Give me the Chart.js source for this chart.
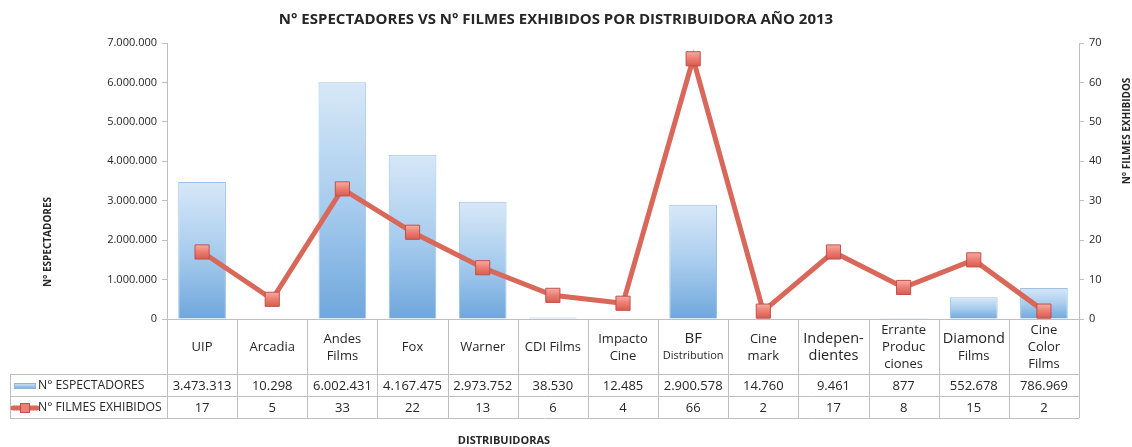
<!DOCTYPE html>
<html>
<head>
<meta charset="utf-8">
<script src="https://cdn.jsdelivr.net/npm/chart.js@4.4.1/dist/chart.umd.min.js"></script>
<style>
  html, body { margin: 0; padding: 0; background: #fff; }
  #wrap { width: 1132px; height: 447px; }
</style>
</head>
<body>
<div id="wrap"><canvas id="distChart" width="1132" height="447"></canvas></div>
<script>
// ================= DATA =================
const categories = [
  ["UIP"], ["Arcadia"], ["Andes", "Films"], ["Fox"], ["Warner"], ["CDI Films"],
  ["Impacto", "Cine"], ["BF", "Distribution"], ["Cine", "mark"], ["Indepen-", "dientes"],
  ["Errante", "Produc", "ciones"], ["Diamond", "Films"], ["Cine", "Color", "Films"]
];
const espectadores = [3473313, 10298, 6002431, 4167475, 2973752, 38530, 12485, 2900578, 14760, 9461, 877, 552678, 786969];
const filmes = [17, 5, 33, 22, 13, 6, 4, 66, 2, 17, 8, 15, 2];
const seriesNames = ["N° ESPECTADORES", "N° FILMES EXHIBIDOS"];
const chartTitle = "N° ESPECTADORES VS N° FILMES EXHIBIDOS POR DISTRIBUIDORA AÑO 2013";
const xTitle = "DISTRIBUIDORAS";

// ================= STYLE =================
const FONT = "'Open Sans', 'Noto Sans', sans-serif";
const TXT = "#262626";
const GRID = "#bfbfbf";
const LINE_RED = "#d9675a";
// bigger / smaller lines in category header (like the original sheet)
const lineSizes = { "BF": 15, "Distribution": 11, "Indepen-": 14.5, "dientes": 14.5, "Diamond": 14.5 };

function fmt(v) {
  return String(Math.round(v)).replace(/\B(?=(\d{3})+(?!\d))/g, ".");
}

function barGradient(ctx) {
  const chart = ctx.chart;
  if (!chart.chartArea || ctx.type !== "data") return "#a9cbeb";
  const y = chart.scales.y;
  const top = y.getPixelForValue(ctx.raw);
  const base = y.getPixelForValue(0);
  const g = chart.ctx.createLinearGradient(0, top, 0, Math.max(base, top + 1));
  g.addColorStop(0, "#d7e8f7");
  g.addColorStop(0.5, "#a9cdee");
  g.addColorStop(1, "#6fa7dc");
  return g;
}

function pointGradient(ctx) {
  const chart = ctx.chart;
  if (!chart.chartArea || ctx.type !== "data") return "#ec8076";
  const y = chart.scales.y1.getPixelForValue(ctx.raw);
  const g = chart.ctx.createLinearGradient(0, y - 8, 0, y + 8);
  g.addColorStop(0, "#f7b3ab");
  g.addColorStop(0.45, "#ee8175");
  g.addColorStop(1, "#d6574a");
  return g;
}

// ================= TABLE + TITLES PLUGIN =================
const tablePlugin = {
  id: "dataTable",
  afterDraw(chart) {
    const c = chart.ctx;
    const x = chart.scales.x;
    const area = chart.chartArea;
    const n = categories.length;
    const colW = (area.right - area.left) / n;
    const tableLeft = 10;
    const headBottom = 374;
    const row1Bottom = 396;
    const row2Bottom = 418;

    c.save();
    // grid of the table
    c.strokeStyle = GRID;
    c.lineWidth = 1;
    c.beginPath();
    for (let i = 0; i <= n; i++) {
      const px = Math.round(area.left + i * colW) + 0.5;
      c.moveTo(px, area.bottom);
      c.lineTo(px, row2Bottom);
    }
    [headBottom, row1Bottom, row2Bottom].forEach(yy => {
      c.moveTo(tableLeft, yy + 0.5);
      c.lineTo(area.right, yy + 0.5);
    });
    c.moveTo(tableLeft + 0.5, headBottom);
    c.lineTo(tableLeft + 0.5, row2Bottom);
    c.stroke();

    // category header
    c.fillStyle = TXT;
    c.textAlign = "center";
    c.textBaseline = "middle";
    const headMid = (area.bottom + headBottom) / 2 + 1;
    categories.forEach((lines, i) => {
      const cx = x.getPixelForValue(i);
      const lh = 17;
      const y0 = headMid - (lines.length - 1) * lh / 2;
      lines.forEach((ln, j) => {
        const size = lineSizes[ln] || 13;
        c.font = size + "px " + FONT;
        c.fillText(ln, cx, y0 + j * lh);
      });
    });

    // value rows
    c.font = "13px " + FONT;
    const r1 = (headBottom + row1Bottom) / 2 + 1;
    const r2 = (row1Bottom + row2Bottom) / 2 + 1;
    espectadores.forEach((v, i) => c.fillText(fmt(v), x.getPixelForValue(i), r1));
    filmes.forEach((v, i) => c.fillText(String(v), x.getPixelForValue(i), r2));

    // legend keys
    const kg = c.createLinearGradient(0, r1 - 3, 0, r1 + 3);
    kg.addColorStop(0, "#dbeaf7");
    kg.addColorStop(1, "#6fa7dc");
    c.fillStyle = kg;
    c.fillRect(14, r1 - 3, 22, 6);
    c.strokeStyle = "#8fb7de";
    c.strokeRect(14.5, r1 - 2.5, 21, 5);
    c.strokeStyle = LINE_RED;
    c.lineWidth = 5;
    c.lineCap = "round";
    c.beginPath();
    c.moveTo(13, r2);
    c.lineTo(37, r2);
    c.stroke();
    c.fillStyle = "#ee8175";
    c.fillRect(20, r2 - 5, 10, 10);
    c.strokeStyle = "#c0504d";
    c.lineWidth = 1;
    c.strokeRect(20.5, r2 - 4.5, 9, 9);

    c.fillStyle = TXT;
    c.textAlign = "left";
    c.font = "12.2px " + FONT;
    c.fillText(seriesNames[0], 38, r1);
    c.fillText(seriesNames[1], 38, r2);

    // titles
    c.textAlign = "center";
    c.font = "bold 15px " + FONT;
    c.fillText(chartTitle, 556, 20);
    c.font = "bold 11px " + FONT;
    c.fillText(xTitle, 504, 441);

    c.font = "bold 10px " + FONT;
    c.translate(48, 242);
    c.rotate(-Math.PI / 2);
    c.fillText(seriesNames[0], 0, 0);
    c.restore();

    c.save();
    c.fillStyle = TXT;
    c.textAlign = "center";
    c.textBaseline = "middle";
    c.font = "bold 10px " + FONT;
    c.translate(1127, 131);
    c.rotate(-Math.PI / 2);
    c.fillText(seriesNames[1], 0, 0);
    c.restore();
  }
};

// ================= CHART =================
const ctx = document.getElementById("distChart").getContext("2d");

const distChart = new Chart(ctx, {
  data: {
    labels: categories.map(l => l.join(" ")),
    datasets: [
      {
        type: "line",
        label: seriesNames[1],
        data: filmes,
        yAxisID: "y1",
        order: 1,
        borderColor: LINE_RED,
        borderWidth: 5,
        tension: 0,
        pointStyle: "rect",
        pointRadius: 10,
        pointBackgroundColor: pointGradient,
        pointBorderColor: "#c0504d",
        pointBorderWidth: 1
      },
      {
        type: "bar",
        label: seriesNames[0],
        data: espectadores,
        yAxisID: "y",
        order: 2,
        backgroundColor: barGradient,
        borderColor: "#9cc1e4",
        borderWidth: 1,
        barPercentage: 0.68,
        categoryPercentage: 1
      }
    ]
  },
  options: {
    responsive: false,
    animation: false,
    layout: { padding: { top: 43, left: 0, right: 0, bottom: 0 } },
    plugins: {
      legend: { display: false },
      tooltip: { enabled: false },
      title: { display: false }
    },
    scales: {
      x: {
        offset: true,
        ticks: { display: false },
        grid: { display: false },
        border: { color: GRID },
        afterFit(s) { s.height = 128; }
      },
      y: {
        position: "left",
        min: 0,
        max: 7000000,
        ticks: {
          stepSize: 1000000,
          padding: 5,
          color: TXT,
          font: { family: FONT, size: 11 },
          callback: v => fmt(v)
        },
        grid: { drawOnChartArea: false, tickLength: 5, color: GRID },
        border: { color: GRID },
        afterFit(s) { s.width = 167; }
      },
      y1: {
        position: "right",
        min: 0,
        max: 70,
        ticks: {
          stepSize: 10,
          padding: 5,
          color: TXT,
          font: { family: FONT, size: 11 }
        },
        grid: { drawOnChartArea: false, tickLength: 5, color: GRID },
        border: { color: GRID },
        afterFit(s) { s.width = 53; }
      }
    }
  },
  plugins: [tablePlugin]
});
</script>
</body>
</html>
